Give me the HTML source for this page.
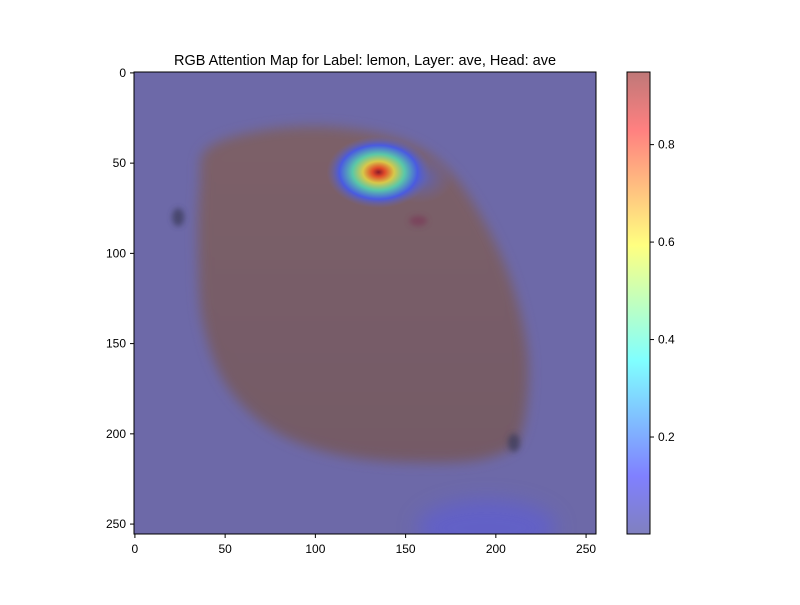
<!DOCTYPE html>
<html><head><meta charset="utf-8"><style>
body{margin:0;background:#fff;width:800px;height:600px;overflow:hidden;font-family:"Liberation Sans",sans-serif}
</style></head><body>
<svg id="chart" width="800" height="600" xmlns="http://www.w3.org/2000/svg">
<defs>
<filter id="blur" x="-30%" y="-30%" width="160%" height="160%"><feGaussianBlur stdDeviation="6"/></filter>
<filter id="blur2" x="-50%" y="-50%" width="200%" height="200%"><feGaussianBlur stdDeviation="10"/></filter>
<filter id="blur3" x="-100%" y="-100%" width="300%" height="300%"><feGaussianBlur stdDeviation="3"/></filter>
<radialGradient id="hot" cx="0.5" cy="0.5" r="0.5">
<stop offset="0" stop-color="#8a1a2a"/>
<stop offset="0.12" stop-color="#e04a2a"/>
<stop offset="0.3" stop-color="#d8c84a"/>
<stop offset="0.5" stop-color="#5ac8a8"/>
<stop offset="0.75" stop-color="#4a5ae0"/>
<stop offset="1" stop-color="#6b68a6" stop-opacity="0"/>
</radialGradient>
<radialGradient id="tail" cx="0.5" cy="0.5" r="0.5">
<stop offset="0" stop-color="#5060d8" stop-opacity="0.8"/>
<stop offset="1" stop-color="#6b68a6" stop-opacity="0"/>
</radialGradient>
<linearGradient id="lemfill" x1="0" y1="0" x2="0" y2="1">
<stop offset="0" stop-color="#7c6068"/>
<stop offset="1" stop-color="#745a66"/>
</linearGradient>
<linearGradient id="cbar" x1="0" y1="1" x2="0" y2="0">
<stop offset="0" stop-color="#8080bf"/>
<stop offset="0.125" stop-color="#8080ff"/>
<stop offset="0.375" stop-color="#80ffff"/>
<stop offset="0.625" stop-color="#ffff80"/>
<stop offset="0.875" stop-color="#ff8080"/>
<stop offset="1" stop-color="#bf7878"/>
</linearGradient>
<clipPath id="clip"><rect x="134" y="72" width="462" height="462"/></clipPath>
</defs>
<g id="img" clip-path="url(#clip)"></g>
<g id="axes"></g>
</svg>
<script>
const xTicks=[0,50,100,150,200,250];
const yTicks=[0,50,100,150,200,250];
const cbTicks=[0.2,0.4,0.6,0.8];
const cbRange=[0.001,0.949];
const hotspot=[135,55];
const lemonX=[40,70,110,150,175,195,210,218,214,200,170,120,80,52,38,35,36];
const lemonY=[42,32,30,38,55,85,120,160,200,212,216,213,200,175,140,100,62];
const darkSpotX=[24,210,157];
const darkSpotY=[80,205,82];
const ns="http://www.w3.org/2000/svg";
const L=134,T=72,S=462/256;
const xs=v=>L+(v+0.5)*S, ys=v=>T+(v+0.5)*S;
const cbY=v=>534-(v-cbRange[0])/(cbRange[1]-cbRange[0])*462;
function mk(tag,attrs,parent){const e=document.createElementNS(ns,tag);for(const k in attrs)e.setAttribute(k,attrs[k]);parent.appendChild(e);return e;}
const img=document.getElementById('img'),ax=document.getElementById('axes');
let bg=mk('rect',{x:L,y:T,width:462,height:462,fill:'#6d69a8'},img);


// smooth closed path through lemon points (Catmull-Rom)
const P=lemonX.map((x,i)=>[xs(x),ys(lemonY[i])]);const n=P.length;
let d=`M${P[0][0]},${P[0][1]}`;
for(let i=0;i<n;i++){const p0=P[(i-1+n)%n],p1=P[i],p2=P[(i+1)%n],p3=P[(i+2)%n];
 d+=`C${p1[0]+(p2[0]-p0[0])/6},${p1[1]+(p2[1]-p0[1])/6} ${p2[0]-(p3[0]-p1[0])/6},${p2[1]-(p3[1]-p1[1])/6} ${p2[0]},${p2[1]}`;}
let lem=mk('path',{d:d+'Z',fill:'url(#lemfill)',filter:'url(#blur)'},img);


darkSpotX.forEach((x,i)=>{
 let s=mk('ellipse',{cx:xs(x),cy:ys(darkSpotY[i]),rx:i==2?9:6,ry:i==2?5:9,fill:i==2?'#7a3a58':'#3a3a5a',opacity:0.75,filter:'url(#blur3)'},img);
 
 
});
let glow=mk('ellipse',{cx:xs(195),cy:ys(252),rx:70,ry:28,fill:'#5a5ae0',opacity:0.55,filter:'url(#blur2)'},img);


let tl=mk('ellipse',{cx:xs(hotspot[0])+40,cy:ys(hotspot[1])+6,rx:35,ry:25,fill:'url(#tail)'},img);


let hs=mk('ellipse',{cx:xs(hotspot[0]),cy:ys(hotspot[1]),rx:52,ry:36,fill:'url(#hot)'},img);


let fr=mk('rect',{x:L,y:T,width:462,height:462,fill:'none',stroke:'#000','stroke-width':1},ax);


xTicks.forEach(v=>{const x=xs(v);
 mk('line',{x1:x,x2:x,y1:534,y2:538,stroke:'#000'},ax);
 const t=mk('text',{x:x,y:553,'text-anchor':'middle','font-size':12},ax);t.textContent=v;
 
 });
yTicks.forEach(v=>{const y=ys(v);
 mk('line',{x1:130,x2:134,y1:y,y2:y,stroke:'#000'},ax);
 const t=mk('text',{x:126,y:y+4,'text-anchor':'end','font-size':12},ax);t.textContent=v;
 
 });
let cb=mk('rect',{x:627,y:72,width:23,height:462,fill:'url(#cbar)',stroke:'#000'},ax);


cbTicks.forEach(v=>{const y=cbY(v);
 mk('line',{x1:650,x2:654,y1:y,y2:y,stroke:'#000'},ax);
 const t=mk('text',{x:658,y:y+4,'font-size':12},ax);t.textContent=v;
 
 });
const title=mk('text',{x:365,y:65,'text-anchor':'middle','font-size':14.5},ax);
title.textContent='RGB Attention Map for Label: lemon, Layer: ave, Head: ave';


</script>
</body></html>
